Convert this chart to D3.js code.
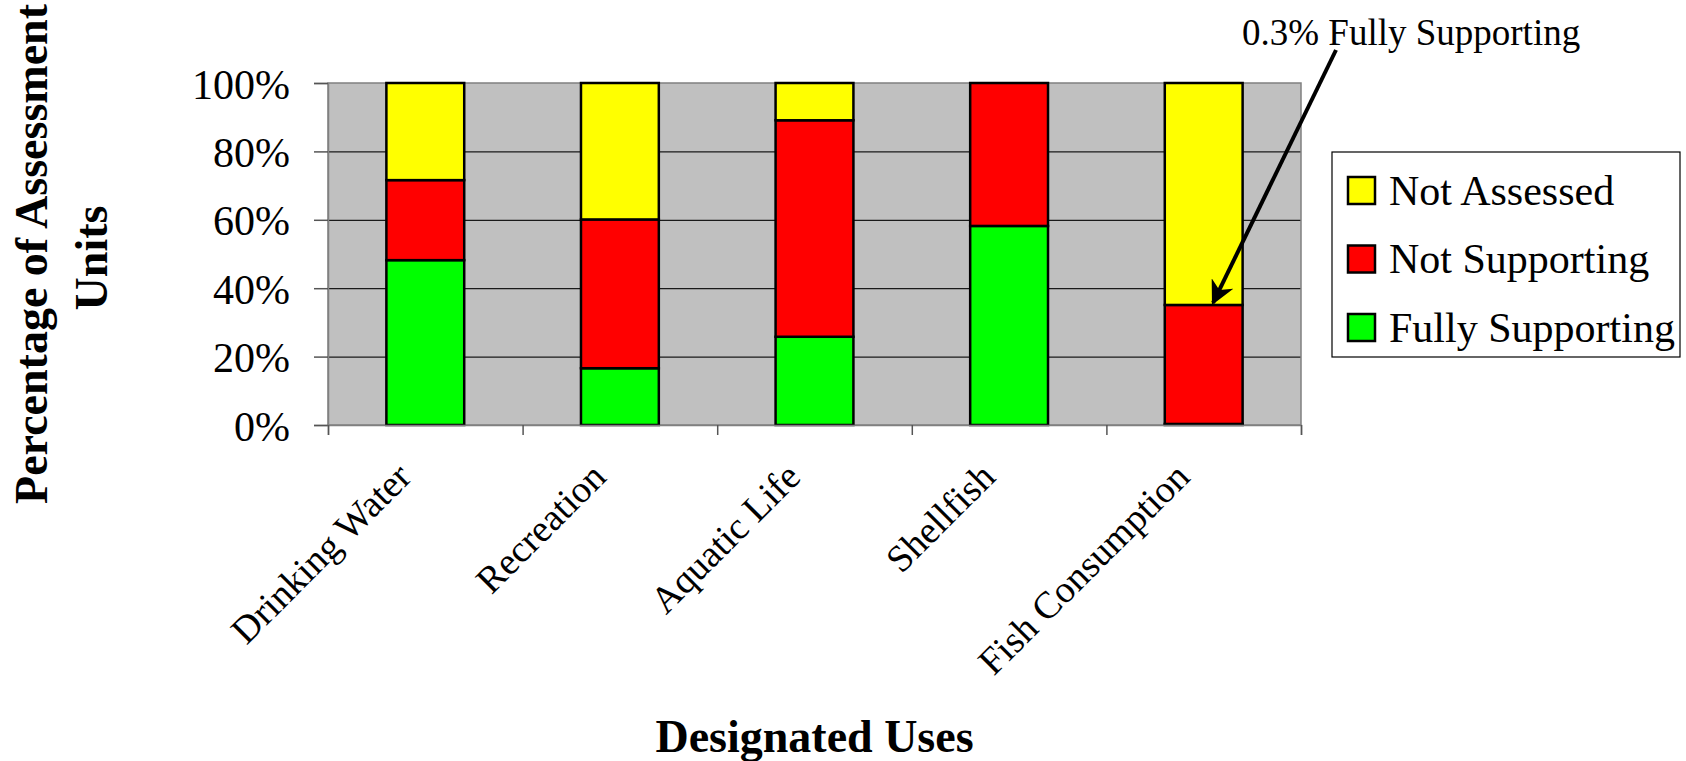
<!DOCTYPE html>
<html>
<head>
<meta charset="utf-8">
<script src="https://cdn.jsdelivr.net/npm/d3@7"></script>
<style>
  body { margin: 0; background: #fff; }
  text { font-family: "Liberation Serif", "Times New Roman", serif; fill: #000; }
</style>
</head>
<body>
<div id="chart"></div>
<script>
// chart data
var categories = ["Drinking Water", "Recreation", "Aquatic Life", "Shellfish", "Fish Consumption"];
var fullySupporting = [48.2, 16.6, 25.8, 58.2, 0.3];
var notSupporting = [23.4, 43.5, 63.3, 41.8, 34.8];
var notAssessed = [28.4, 39.9, 10.9, 0, 64.9];
var seriesNames = ["Fully Supporting", "Not Supporting", "Not Assessed"];
var seriesColors = ["#00ff00", "#ff0000", "#ffff00"];
var yTicks = [0, 20, 40, 60, 80, 100];

var width = 1686, height = 761;
var plot = {left: 328, right: 1301, top: 83, bottom: 425};

var svg = d3.select("#chart").append("svg")
    .attr("width", width)
    .attr("height", height);

var rows = categories.map(function(c, i) {
    return {cat: c, "Fully Supporting": fullySupporting[i], "Not Supporting": notSupporting[i], "Not Assessed": notAssessed[i]};
});

var x = d3.scaleBand()
    .domain(categories)
    .range([plot.left, plot.right])
    .paddingInner(0.6)
    .paddingOuter(0.3);

var xEdge = d3.scaleLinear()
    .domain([0, categories.length])
    .range([plot.left, plot.right]);

var y = d3.scaleLinear()
    .domain([0, 100])
    .range([plot.bottom, plot.top]);

var color = d3.scaleOrdinal().domain(seriesNames).range(seriesColors);

// plot background
svg.append("rect")
    .attr("x", plot.left).attr("y", plot.top)
    .attr("width", plot.right - plot.left)
    .attr("height", plot.bottom - plot.top)
    .style("fill", "#c0c0c0");

// gridlines
svg.append("g")
    .attr("class", "grid")
    .attr("transform", "translate(" + plot.left + ",0)")
    .call(d3.axisLeft(y).tickValues([20, 40, 60, 80]).tickSize(-(plot.right - plot.left)).tickFormat(""))
    .call(function(g) { g.select(".domain").remove(); })
    .selectAll("line")
      .style("stroke", "#1a1a1a")
      .style("stroke-width", 1.2);

// plot border
svg.append("rect")
    .attr("x", plot.left).attr("y", plot.top)
    .attr("width", plot.right - plot.left)
    .attr("height", plot.bottom - plot.top)
    .style("fill", "none")
    .style("stroke", "#808080")
    .style("stroke-width", 1.5);

// stacked bars
var stacked = d3.stack().keys(seriesNames)(rows);

svg.append("g")
    .selectAll("g")
    .data(stacked)
  .enter().append("g")
    .style("fill", function(d) { return color(d.key); })
  .selectAll("rect")
    .data(function(d) { return d.filter(function(p) { return p[1] - p[0] > 0; }); })
  .enter().append("rect")
    .attr("x", function(d) { return x(d.data.cat); })
    .attr("y", function(d) { return y(d[1]); })
    .attr("width", x.bandwidth())
    .attr("height", function(d) { return y(d[0]) - y(d[1]); })
    .style("stroke", "#000")
    .style("stroke-width", 2.5);

// y axis
var yAxis = svg.append("g")
    .attr("transform", "translate(" + plot.left + ",0)")
    .call(d3.axisLeft(y).tickValues(yTicks).tickSize(14).tickPadding(24)
        .tickFormat(function(d) { return d + "%"; }));
yAxis.select(".domain").style("stroke", "#808080").style("stroke-width", 1.5);
yAxis.selectAll(".tick line").style("stroke", "#555").style("stroke-width", 1.5);
yAxis.selectAll(".tick text")
    .style("font-size", "42px")
    .style("font-family", "Liberation Serif")
    .attr("dy", "0.36em");

// x axis tick marks at category edges
var xAxis = svg.append("g")
    .attr("transform", "translate(0," + plot.bottom + ")")
    .call(d3.axisBottom(xEdge).tickValues(d3.range(categories.length + 1)).tickSize(10).tickFormat(""));
xAxis.select(".domain").style("stroke", "#808080").style("stroke-width", 1.5);
xAxis.selectAll(".tick line").style("stroke", "#555").style("stroke-width", 1.5);

// category labels, rotated
svg.append("g")
    .selectAll("text")
    .data(categories)
  .enter().append("text")
    .attr("transform", function(d) {
        return "translate(" + (x(d) + x.bandwidth() / 2 - 12) + "," + 479 + ") rotate(-45)";
    })
    .attr("text-anchor", "end")
    .style("font-size", "38px")
    .text(function(d) { return d; });

// axis titles
var yTitle = svg.append("text")
    .attr("transform", "translate(47,254) rotate(-90)")
    .attr("text-anchor", "middle")
    .style("font-size", "46px")
    .style("font-weight", "bold");
yTitle.append("tspan").attr("x", 0).attr("y", 0).text("Percentage of Assessment");
yTitle.append("tspan").attr("x", -4).attr("y", 60).text("Units");

svg.append("text")
    .attr("x", (plot.left + plot.right) / 2)
    .attr("y", 752)
    .attr("text-anchor", "middle")
    .style("font-size", "46px")
    .style("font-weight", "bold")
    .text("Designated Uses");

// legend
var legend = svg.append("g").attr("transform", "translate(1332,152)");
legend.append("rect")
    .attr("width", 348).attr("height", 205)
    .style("fill", "#fff")
    .style("stroke", "#000")
    .style("stroke-width", 1.2);

var legendItems = legend.selectAll(".item")
    .data(seriesNames.slice().reverse())
  .enter().append("g")
    .attr("class", "item")
    .attr("transform", function(d, i) { return "translate(16," + (38 + i * 68.5) + ")"; });

legendItems.append("rect")
    .attr("y", -13).attr("width", 27).attr("height", 27)
    .style("fill", function(d) { return color(d); })
    .style("stroke", "#000")
    .style("stroke-width", 2.5);

legendItems.append("text")
    .attr("x", 41)
    .attr("dy", "0.35em")
    .style("font-size", "42px")
    .text(function(d) { return d; });

// annotation with arrow
var defs = svg.append("defs");
defs.append("marker")
    .attr("id", "arrowHead")
    .attr("viewBox", "0 0 10 10")
    .attr("refX", 9).attr("refY", 5)
    .attr("markerWidth", 6).attr("markerHeight", 6)
    .attr("markerUnits", "strokeWidth")
    .attr("orient", "auto")
  .append("path")
    .attr("d", "M0,0 L10,5 L0,10 L3,5 z")
    .style("fill", "#000");

var lastCat = categories[categories.length - 1];
svg.append("line")
    .attr("x1", 1336).attr("y1", 50)
    .attr("x2", x(lastCat) + x.bandwidth() * 0.62)
    .attr("y2", y(fullySupporting[4] + notSupporting[4]) - 2)
    .style("stroke", "#000")
    .style("stroke-width", 4)
    .attr("marker-end", "url(#arrowHead)");

svg.append("text")
    .attr("x", 1242)
    .attr("y", 45)
    .style("font-size", "37px")
    .text(fullySupporting[4] + "% Fully Supporting");
</script>
</body>
</html>
